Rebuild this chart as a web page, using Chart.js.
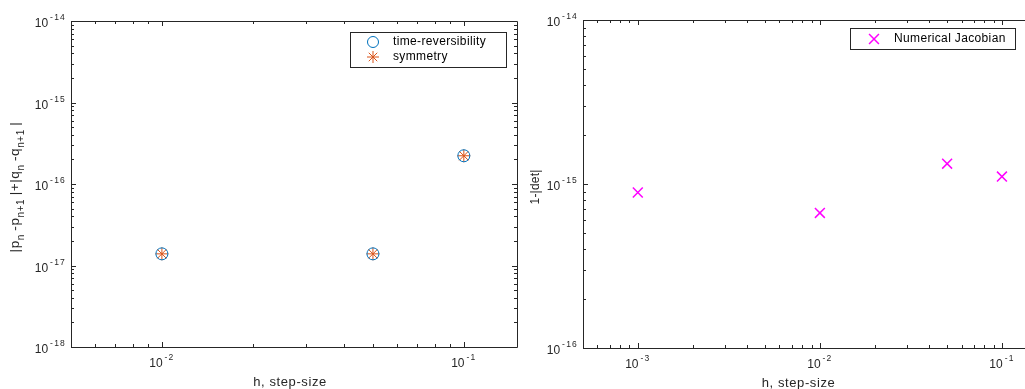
<!DOCTYPE html>
<html>
<head>
<meta charset="utf-8">
<script src="https://cdn.jsdelivr.net/npm/chart.js@4/dist/chart.umd.min.js"></script>
<style>
  html, body { margin:0; padding:0; background:#fff; overflow:hidden; }
  #wrap { position:relative; width:1025px; height:389px; overflow:hidden; }
  canvas { position:absolute; top:0; }
  #cLeft { left:0; }
  #cRight { left:525px; }
</style>
</head>
<body>
<div id="wrap">
  <canvas id="cLeft" width="525" height="389"></canvas>
  <canvas id="cRight" width="520" height="389"></canvas>
</div>
<script>
// ---- dados ----
const passosEsq = [0.01, 0.05, 0.1];
const erroReversibilidade = [1.39e-17, 1.39e-17, 2.22e-16];
const erroSimetria = [1.39e-17, 1.39e-17, 2.22e-16];

const passosDir = [0.001, 0.01, 0.05, 0.1];
const erroJacobiano = [8.88e-16, 6.66e-16, 1.33e-15, 1.11e-15];

const ticksXEsq = [1e-2, 1e-1];
const ticksYEsq = [1e-18, 1e-17, 1e-16, 1e-15, 1e-14];
const ticksXDir = [1e-3, 1e-2, 1e-1];
const ticksYDir = [1e-16, 1e-15, 1e-14];

const FONTE = '"Liberation Sans", Arial, Helvetica, sans-serif';
const COR_EIXO = '#262626';

function pontos(xs, ys){ return xs.map((x,i)=>({x, y: ys[i]})); }

function menores(min, max){
  const out = [];
  for(let d = Math.floor(Math.log10(min)); d <= Math.ceil(Math.log10(max)); d++){
    for(let k = 2; k <= 9; k++){
      const v = k * Math.pow(10, d);
      if(v > min && v < max) out.push(v);
    }
  }
  return out;
}

// "10" com expoente
function potencia(ctx, v, x, y, align){
  const exp = String(Math.round(Math.log10(v)));
  ctx.font = '12px ' + FONTE;
  const w10 = ctx.measureText('10').width;
  ctx.font = '8.5px ' + FONTE;
  ctx.letterSpacing = '1.2px';
  const wExp = ctx.measureText(exp).width;
  ctx.letterSpacing = '0px';
  const gap = 2;
  const total = w10 + gap + wExp;
  let x0 = align === 'right' ? x - total : x - total/2;
  ctx.fillStyle = COR_EIXO;
  ctx.textAlign = 'left';
  ctx.textBaseline = 'middle';
  ctx.font = '12px ' + FONTE;
  ctx.fillText('10', x0, y);
  ctx.font = '8.5px ' + FONTE;
  ctx.letterSpacing = '1.2px';
  ctx.fillText(exp, x0 + w10 + gap, y - 6);
  ctx.letterSpacing = '0px';
}

function textoComSub(ctx, partes, cx, cy, tam, tamSub, esp){
  // partes: [texto, ehSub]
  ctx.save();
  ctx.translate(cx, cy);
  ctx.rotate(-Math.PI/2);
  ctx.letterSpacing = esp + 'px';
  let total = 0;
  partes.forEach(p=>{
    ctx.font = (p[1] ? tamSub : tam) + 'px ' + FONTE;
    total += ctx.measureText(p[0]).width;
  });
  let x = -total/2;
  ctx.fillStyle = COR_EIXO;
  ctx.textBaseline = 'middle';
  ctx.textAlign = 'left';
  partes.forEach(p=>{
    ctx.font = (p[1] ? tamSub : tam) + 'px ' + FONTE;
    ctx.fillText(p[0], x, p[1] ? 6 : 0);
    x += ctx.measureText(p[0]).width;
  });
  ctx.restore();
}

const eixosMatlab = {
  id: 'eixosMatlab',
  afterDraw(chart, args, opts){
    const ctx = chart.ctx;
    const a = chart.chartArea;
    const sx = chart.scales.x, sy = chart.scales.y;
    ctx.save();
    ctx.strokeStyle = COR_EIXO;
    ctx.lineWidth = 1;
    ctx.beginPath();
    ctx.rect(Math.round(a.left)+0.5, Math.round(a.top)+0.5, Math.round(a.right-a.left), Math.round(a.bottom-a.top));
    ctx.stroke();

    // ticks para dentro
    ctx.beginPath();
    const tx = (v, len)=>{
      const px = Math.round(sx.getPixelForValue(v)) + 0.5;
      ctx.moveTo(px, a.bottom); ctx.lineTo(px, a.bottom - len);
      ctx.moveTo(px, a.top); ctx.lineTo(px, a.top + len);
    };
    const ty = (v, len)=>{
      const py = Math.round(sy.getPixelForValue(v)) + 0.5;
      ctx.moveTo(a.left, py); ctx.lineTo(a.left + len, py);
      ctx.moveTo(a.right, py); ctx.lineTo(a.right - len, py);
    };
    opts.xTicks.forEach(v=>tx(v, 5));
    menores(sx.min, sx.max).forEach(v=>tx(v, 3));
    opts.yTicks.forEach(v=>ty(v, 5));
    menores(sy.min, sy.max).forEach(v=>ty(v, 3));
    ctx.stroke();

    opts.xTicks.forEach(v=> potencia(ctx, v, sx.getPixelForValue(v), a.bottom + 17, 'center'));
    opts.yTicks.forEach(v=> potencia(ctx, v, a.left - 5, sy.getPixelForValue(v) + 3, 'right'));

    // titulo do eixo x
    ctx.font = '13px ' + FONTE;
    ctx.letterSpacing = '0.6px';
    ctx.fillStyle = COR_EIXO;
    ctx.textAlign = 'center';
    ctx.textBaseline = 'middle';
    ctx.fillText(opts.xTitulo, (a.left + a.right)/2 + opts.xTituloDx, a.bottom + 35);
    ctx.letterSpacing = '0px';

    textoComSub(ctx, opts.yTitulo, opts.yTituloX, (a.top + a.bottom)/2 + 3, opts.yTam, opts.yTamSub, opts.yEsp);

    // legenda
    const L = opts.legenda;
    ctx.fillStyle = '#fff';
    ctx.fillRect(L.x, L.y, L.w, L.h);
    ctx.strokeStyle = COR_EIXO;
    ctx.lineWidth = 1;
    ctx.strokeRect(L.x + 0.5, L.y + 0.5, L.w, L.h);
    L.itens.forEach((it, i)=>{
      const yy = L.y + L.primeiro + i * L.passo;
      ctx.strokeStyle = it.cor;
      ctx.fillStyle = 'rgba(0,0,0,0)';
      ctx.lineWidth = it.lw;
      Chart.helpers.drawPoint(ctx, {pointStyle: it.estilo, radius: it.raio, rotation: 0, borderWidth: it.lw}, L.x + L.mx, yy);
      ctx.fillStyle = '#000';
      ctx.font = '12px ' + FONTE;
      ctx.letterSpacing = '0.35px';
      ctx.textAlign = 'left';
      ctx.textBaseline = 'middle';
      ctx.fillText(it.texto, L.x + L.tx, yy);
      ctx.letterSpacing = '0px';
    });
    ctx.restore();
  }
};

Chart.register(eixosMatlab);

function opcoes(xmin, xmax, ymin, ymax, pad, plug){
  return {
    responsive: false,
    animation: false,
    devicePixelRatio: 1,
    layout: { padding: pad },
    scales: {
      x: { type: 'logarithmic', min: xmin, max: xmax, display: false },
      y: { type: 'logarithmic', min: ymin, max: ymax, display: false }
    },
    plugins: { legend: { display: false }, tooltip: { enabled: false }, eixosMatlab: plug }
  };
}

new Chart(document.getElementById('cLeft'), {
  type: 'scatter',
  data: {
    datasets: [
      { label: 'time-reversibility', data: pontos(passosEsq, erroReversibilidade),
        pointStyle: 'circle', pointRadius: 6, borderColor: '#0072BD', backgroundColor: 'rgba(0,0,0,0)', borderWidth: 1 },
      { label: 'symmetry', data: pontos(passosEsq, erroSimetria),
        pointStyle: 'star', pointRadius: 6.5, borderColor: '#D95319', backgroundColor: 'rgba(0,0,0,0)', borderWidth: 1 }
    ]
  },
  options: opcoes(0.005, 0.15, 1e-18, 1e-14, {left: 71, right: 8, top: 21, bottom: 42}, {
    xTicks: ticksXEsq, yTicks: ticksYEsq, xTitulo: 'h, step-size', xTituloDx: -4,
    yTitulo: [['|p',0],['n ',1],['-p',0],['n+1 ',1],['|+|q',0],['n ',1],['-q',0],['n+1 ',1],['|',0]],
    yTituloX: 15, yTam: 13.5, yTamSub: 10, yEsp: 0.6,
    legenda: { x: 350, y: 32, w: 156, h: 35, mx: 23, tx: 43, primeiro: 10, passo: 15,
      itens: [
        { texto: 'time-reversibility', estilo: 'circle', cor: '#0072BD', raio: 5.5, lw: 1 },
        { texto: 'symmetry', estilo: 'star', cor: '#D95319', raio: 6, lw: 1 }
      ] }
  })
});

new Chart(document.getElementById('cRight'), {
  type: 'scatter',
  data: {
    datasets: [
      { label: 'Numerical Jacobian', data: pontos(passosDir, erroJacobiano),
        pointStyle: 'crossRot', pointRadius: 7, borderColor: '#FF00FF', backgroundColor: 'rgba(0,0,0,0)', borderWidth: 1.5 }
    ]
  },
  options: opcoes(0.0005, 0.15, 1e-16, 1e-14, {left: 58, right: 11, top: 20, bottom: 41}, {
    xTicks: ticksXDir, yTicks: ticksYDir, xTitulo: 'h, step-size', xTituloDx: -10,
    yTitulo: [['1-|det|',0]],
    yTituloX: 11, yTam: 12, yTamSub: 9, yEsp: 0.2,
    legenda: { x: 325, y: 28, w: 165, h: 21, mx: 24, tx: 44, primeiro: 11, passo: 15,
      itens: [
        { texto: 'Numerical Jacobian', estilo: 'crossRot', cor: '#FF00FF', raio: 7, lw: 1.5 }
      ] }
  })
});
</script>
</body>
</html>
